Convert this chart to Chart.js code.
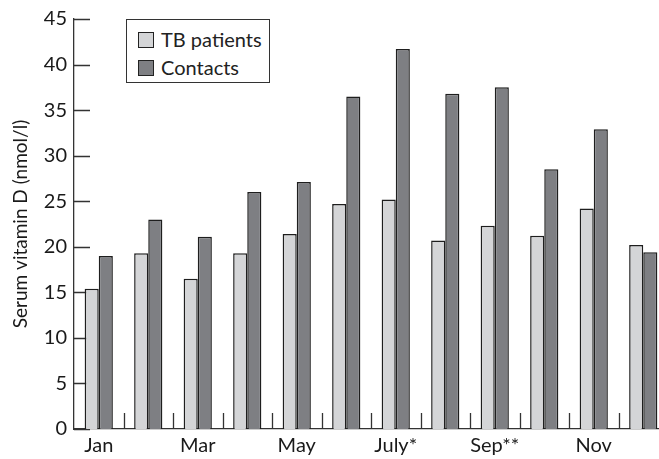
<!DOCTYPE html>
<html>
<head>
<meta charset="utf-8">
<script src="https://cdn.jsdelivr.net/npm/chart.js@4/dist/chart.umd.min.js"></script>
<style>
  html, body { margin: 0; padding: 0; background: #fff; overflow: hidden; }
  #wrap { position: absolute; left: 0; top: 0; width: 668px; height: 459px; }
  #legend {
    position: absolute; left: 126px; top: 19px; width: 142px; height: 62px;
    border: 1.5px solid #333; background: #fff;
    font-family: Lato, "Noto Sans", sans-serif; font-size: 20px; color: #222;
  }
  #legend div { position: absolute; left: 11px; height: 20px; line-height: 20px; }
  #legend span.sw {
    display: inline-block; width: 14px; height: 14px; border: 1.5px solid #222;
    vertical-align: -1px; margin-right: 7px;
  }
</style>
</head>
<body>
<div id="wrap">
  <canvas id="chart" width="668" height="459"></canvas>
  <div id="legend"></div>
</div>
<script>
"use strict";

const months = ["Jan", "Feb", "Mar", "Apr", "May", "Jun", "Jul", "Aug", "Sep", "Oct", "Nov", "Dec"];
const tickLabels = ["Jan", "", "Mar", "", "May", "", "July*", "", "Sep**", "", "Nov", ""];
const tbPatients = [15.4, 19.3, 16.5, 19.3, 21.4, 24.7, 25.2, 20.7, 22.3, 21.2, 24.2, 20.2];
const contacts = [19.0, 23.0, 21.1, 26.0, 27.1, 36.5, 41.7, 36.8, 37.5, 28.5, 32.9, 19.4];
const seriesNames = ["TB patients", "Contacts"];
const seriesColors = ["#d4d5d7", "#7e7f83"];

const $ = (id) => document.getElementById(id);
const font = "Lato, 'Noto Sans', sans-serif";

// tick marks pointing into the plot, like the original
const innerTicks = {
  id: "innerTicks",
  beforeDatasetsDraw(chart) {
    const { ctx, scales: { x, y } } = chart;
    const step = x.getPixelForValue(1) - x.getPixelForValue(0);
    ctx.save();
    ctx.strokeStyle = "#333";
    ctx.lineWidth = 1.3;
    ctx.beginPath();
    y.ticks.forEach((t) => {
      const py = Math.round(y.getPixelForValue(t.value)) + 0.5;
      ctx.moveTo(x.left, py);
      ctx.lineTo(x.left + 16, py);
    });
    months.forEach((m, i) => {
      const px = Math.round(x.getPixelForValue(i) + step / 2) + 0.5;
      ctx.moveTo(px, y.bottom);
      ctx.lineTo(px, y.bottom - 16);
    });
    ctx.stroke();
    ctx.restore();
  },
};

new Chart($("chart"), {
  type: "bar",
  data: {
    labels: months,
    datasets: [
      {
        label: seriesNames[0],
        data: tbPatients,
        backgroundColor: seriesColors[0],
        borderColor: "#1e1e1e",
        borderWidth: 1.5,
        borderSkipped: "bottom",
      },
      {
        label: seriesNames[1],
        data: contacts,
        backgroundColor: seriesColors[1],
        borderColor: "#1e1e1e",
        borderWidth: 1.5,
        borderSkipped: "bottom",
      },
    ],
  },
  options: {
    responsive: false,
    animation: false,
    layout: { padding: { top: 10, right: 0, left: 0, bottom: 0 } },
    categoryPercentage: 0.57,
    barPercentage: 1.0,
    plugins: { legend: { display: false }, tooltip: { enabled: false } },
    scales: {
      x: {
        grid: { display: false, drawTicks: false },
        border: { display: true, color: "#333", width: 1.3 },
        ticks: {
          autoSkip: false,
          maxRotation: 0,
          padding: 5,
          color: "#1a1a1a",
          font: { family: font, size: 20 },
          callback: (value, index) => tickLabels[index],
        },
        afterFit: (scale) => { scale.height = 30; },
      },
      y: {
        min: 0,
        max: 45,
        grid: { display: false, drawTicks: false },
        border: { display: true, color: "#333", width: 1.3 },
        ticks: {
          stepSize: 5,
          padding: 7,
          color: "#1a1a1a",
          font: { family: font, size: 20 },
        },
        title: {
          display: true,
          text: "Serum vitamin D (nmol/l)",
          color: "#1a1a1a",
          font: { family: font, size: 19 },
          padding: { top: 9, bottom: 0 },
        },
        afterFit: (scale) => { scale.width = 74; },
      },
    },
  },
  plugins: [innerTicks],
});

$("legend").innerHTML = seriesNames
  .map(
    (name, i) =>
      `<div style="top:${9 + i * 28}px"><span class="sw" style="background:${seriesColors[i]}"></span>${name}</div>`,
  )
  .join("");
</script>
</body>
</html>
